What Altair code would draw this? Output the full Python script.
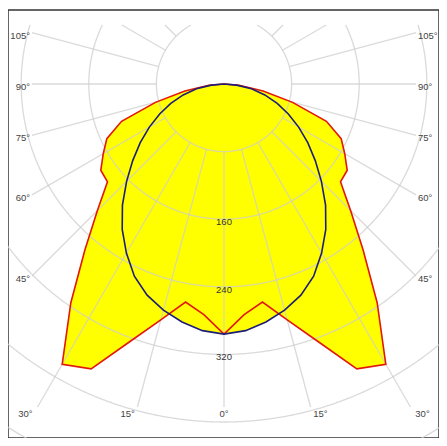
import numpy as np
import pandas as pd
import altair as alt

# ---- data ----
GAMMA = [0, 5, 10, 15, 20, 25, 30, 35, 40, 45, 50, 55, 60, 65, 70, 75, 80, 85, 90]
C0_C180 = [296, 274, 262, 289, 324, 372, 383, 316, 256, 212, 180, 178, 165, 153, 129, 84, 47, 18, 0]
C90_C270 = [296, 293, 286, 277, 266, 251, 231, 210, 187, 163, 141, 121, 102, 84, 67, 50, 33, 15, 0]
RING_VALUES = [80, 160, 240, 320, 400, 480]
RING_LABELS = [160, 240, 320]
RAY_ANGLES = [0, 15, 30, 45, 60, 75, 90, 105, 120, 135, 150]
ANGLE_LABELS = [0, 15, 30, 45, 60, 75, 90, 105]

# ---- layout ----
PX = 0.845            # pixels per cd
W, H = 431, 428       # plot frame
CX, CY = 216, 74      # pole position inside the frame (px)


def to_x(px):
    return (px - CX) / PX


def to_y(py):
    return (CY - py) / PX


XDOM = [to_x(0), to_x(W)]
YDOM = [to_y(H), to_y(0)]
R_LEFT, R_RIGHT, R_TOP, R_BOTTOM = to_x(24), to_x(408), to_y(15), to_y(397)
R_START = RING_VALUES[0]


def polygon(vals, name):
    seq = [(-g, v) for g, v in zip(GAMMA[::-1], vals[::-1])] + \
          [(g, v) for g, v in zip(GAMMA[1:], vals[1:])]
    rows = []
    for i, (g, v) in enumerate(seq):
        a = np.deg2rad(g)
        rows.append(dict(x=v * np.sin(a), y=-v * np.cos(a), o=i, s=name))
    return pd.DataFrame(rows)


red = polygon(C0_C180, "C0-C180")
blue = polygon(C90_C270, "C90-C270")

# rings (clipped at the top edge of the grid box)
ring_rows = []
for r in RING_VALUES:
    gmax = np.degrees(np.arccos(np.clip(-R_TOP / r, -1, 1)))
    for k, g in enumerate(np.linspace(-gmax, gmax, 721)):
        a = np.deg2rad(g)
        ring_rows.append(dict(x=r * np.sin(a), y=-r * np.cos(a), o=k, ring=r))
rings = pd.DataFrame(ring_rows)


def ray_end(g):
    a = np.deg2rad(g)
    dx, dy = np.sin(a), -np.cos(a)
    ts = []
    if dx < -1e-9:
        ts.append(R_LEFT / dx)
    if dx > 1e-9:
        ts.append(R_RIGHT / dx)
    if dy > 1e-9:
        ts.append(R_TOP / dy)
    if dy < -1e-9:
        ts.append(R_BOTTOM / dy)
    return min(ts), dx, dy


ray_rows = []
for g0 in RAY_ANGLES:
    for sgn in ([1] if g0 == 0 else [-1, 1]):
        g = sgn * g0
        t, dx, dy = ray_end(g)
        if t > R_START + 3:
            ray_rows.append(dict(x=R_START * dx, y=R_START * dy, x2=t * dx, y2=t * dy))
rays = pd.DataFrame(ray_rows)

# angle labels
lab_rows = []
Y_BOTTOM_LABEL = to_y(404)
for g0 in ANGLE_LABELS:
    for sgn in ([1] if g0 == 0 else [-1, 1]):
        g = sgn * g0
        t, dx, dy = ray_end(g)
        ex, ey = t * dx, t * dy
        if abs(ey - R_BOTTOM) < 1e-6:   # ray ends on the bottom edge
            lx = -Y_BOTTOM_LABEL * np.tan(np.deg2rad(g)) + sgn * (8 / PX if g0 else 0)
            lab_rows.append(dict(x=lx, y=Y_BOTTOM_LABEL, t=f"{g0}°", al="center"))
        else:
            lx = ex + sgn * 2 / PX
            lab_rows.append(dict(x=lx, y=ey - 3 / PX, t=f"{g0}°",
                                 al="right" if sgn < 0 else "left"))
labels = pd.DataFrame(lab_rows)
ring_lab = pd.DataFrame(dict(x=[0] * len(RING_LABELS), y=[-r for r in RING_LABELS],
                             t=[str(r) for r in RING_LABELS]))

xs = alt.Scale(domain=XDOM, nice=False, zero=False)
ys = alt.Scale(domain=YDOM, nice=False, zero=False)
X = alt.X("x:Q", scale=xs, axis=None)
Y = alt.Y("y:Q", scale=ys, axis=None)

fill_red = alt.Chart(red).mark_line(fill="#ffff00", stroke="#ffff00", strokeWidth=0.5, clip=True).encode(
    x=X, y=Y, order="o:Q")
fill_blue = alt.Chart(blue).mark_line(fill="#ffff00", stroke="#ffff00", strokeWidth=0.5, clip=True).encode(
    x=X, y=Y, order="o:Q")

GRID = "#cdcdcd"
ring_layer = alt.Chart(rings).mark_line(color=GRID, opacity=0.75, strokeWidth=1.3, clip=True).encode(
    x=X, y=Y, order="o:Q", detail="ring:N")
ray_layer = alt.Chart(rays).mark_rule(color=GRID, opacity=0.75, strokeWidth=1.3, clip=True).encode(
    x=X, y=Y, x2="x2:Q", y2="y2:Q")

red_line = alt.Chart(red).mark_line(color="#e3170e", strokeWidth=1.6, clip=True).encode(
    x=X, y=Y, order="o:Q")
blue_line = alt.Chart(blue).mark_line(color="#1d1d78", strokeWidth=1.6, clip=True).encode(
    x=X, y=Y, order="o:Q")

FONT = "Liberation Sans"
lab_layers = []
for al in ["left", "right", "center"]:
    sub = labels[labels.al == al]
    lab_layers.append(alt.Chart(sub).mark_text(align=al, baseline="middle", font=FONT, fontSize=9.5,
                                               color="#444444").encode(x=X, y=Y, text="t:N"))
ring_text = alt.Chart(ring_lab).mark_text(align="center", baseline="middle", dy=3, font=FONT,
                                          fontSize=9.5, color="#333333").encode(x=X, y=Y, text="t:N")

chart = alt.layer(fill_red, fill_blue, ring_layer, ray_layer, red_line, blue_line, ring_text,
                  *lab_layers).properties(
    width=W, height=H,
    autosize=alt.AutoSizeParams(type="none"),
    padding={"left": 0, "top": 2, "right": 0, "bottom": 0},
    background="white",
).configure_view(stroke="#333333", strokeWidth=1.5)

chart.save("out.html", embed_options={"renderer": "svg", "actions": False})
